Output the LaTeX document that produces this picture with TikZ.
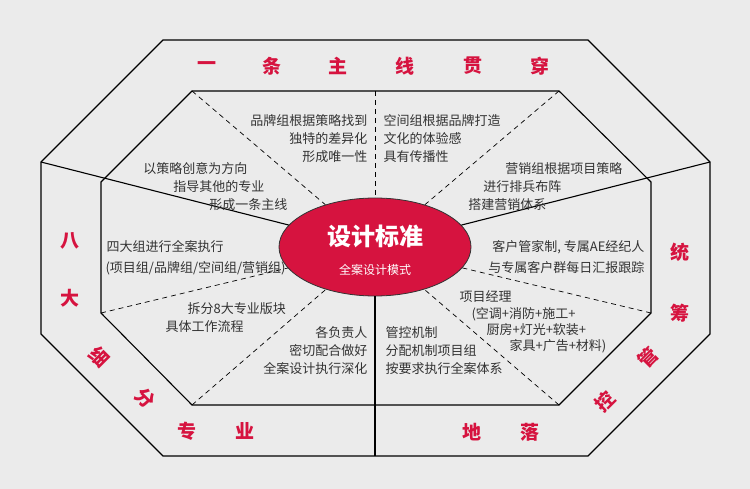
\documentclass[tikz,border=0pt]{standalone}
\usepackage{fontspec}
\setmainfont{Noto Sans CJK SC}
\usetikzlibrary{positioning, shapes.geometric}
\definecolor{brandred}{HTML}{D6133F}
\definecolor{bggray}{HTML}{EBEBEB}
\definecolor{txtgray}{HTML}{333333}
\begin{document}
\begin{tikzpicture}[x=1pt, y=-1pt, line width=1.1pt,
    body/.style={text=txtgray, font=\fontsize{13}{18}\selectfont, inner sep=0pt, align=left},
    band/.style={text=brandred, font=\fontsize{19}{20}\selectfont\bfseries, inner sep=0pt},
    spoke/.style={dashed, line width=.7pt, dash pattern=on 5pt off 4pt}]

    \fill[bggray] (0,0) rectangle (750,489);
    \useasboundingbox (0,0) rectangle (750,489);

    % Outer octagon
    \coordinate (o1) at (163,40);  \coordinate (o2) at (588,40);
    \coordinate (o3) at (710,162); \coordinate (o4) at (710,334);
    \coordinate (o5) at (588,456); \coordinate (o6) at (163,456);
    \coordinate (o7) at (41,334);  \coordinate (o8) at (41,162);
    \coordinate (obot) at (375,456);
    % Inner octagon
    \coordinate (i1) at (192,91);  \coordinate (i2) at (559,91);
    \coordinate (i3) at (651,182); \coordinate (i4) at (651,313);
    \coordinate (i5) at (559,405); \coordinate (i6) at (192,405);
    \coordinate (i7) at (101,313); \coordinate (i8) at (101,182);
    \coordinate (itop) at (375,91);

    \draw (o1) -- (o2) -- (o3) -- (o4) -- (o5) -- (o6) -- (o7) -- (o8) -- cycle;
    \draw (i1) -- (i2) -- (i3) -- (i4) -- (i5) -- (i6) -- (i7) -- (i8) -- cycle;

    % Center ellipse
    \node (std) [ellipse, fill=brandred, draw=txtgray, line width=.8pt, minimum width=192pt, minimum height=98pt] at (375,247) {};
    \node (stdtitle) [text=white, font=\fontsize{24}{26}\selectfont\bfseries] at (375,236) {设计标准};
    \node (stdsub) [text=white, font=\fontsize{12}{14}\selectfont] at (375,270) {全案设计模式};

    % Solid spokes
    \draw (o8) -- (std);
    \draw (o3) -- (std);
    \draw (std) -- (obot);

    % Dashed spokes
    \draw[spoke] (itop) -- (std);
    \draw[spoke] (i1) -- (std);
    \draw[spoke] (i2) -- (std);
    \draw[spoke] (i7) -- (std);
    \draw[spoke] (i4) -- (std);
    \draw[spoke] (i6) -- (std);
    \draw[spoke] (i5) -- (std);

    % Band labels
    \node[band] (t1) at (207,66) {一};
    \node[band] (t2) at (272,66) {条};
    \node[band] (t3) at (338,66) {主};
    \node[band] (t4) at (405,66) {线};
    \node[band] (t5) at (473,66) {贯};
    \node[band] (t6) at (540,66) {穿};
    \node[band] (l1) at (70,241) {八};
    \node[band] (l2) at (70,298) {大};
    \node[band, rotate=-45] (l3) at (100,357) {细};
    \node[band, rotate=-45] (l4) at (145,398) {分};
    \node[band] (l5) at (187,431) {专};
    \node[band] (l6) at (245,431) {业};
    \node[band] (r1) at (680,252) {统};
    \node[band] (r2) at (680,313) {筹};
    \node[band, rotate=45] (r3) at (648,358) {管};
    \node[band, rotate=45] (r4) at (605,402) {控};
    \node[band] (r5) at (472,432) {地};
    \node[band] (r6) at (530,432) {落};

    % Segment texts
    \node[body, align=right, anchor=north east] (brand) at (368,114) {品牌组根据策略找到\\独特的差异化\\形成唯一性};
    \node[body, anchor=north west] (space) at (383,114) {空间组根据品牌打造\\文化的体验感\\具有传播性};
    \node[body, anchor=east] (lead1) at (248,169) {以策略创意为方向};
    \node[body, anchor=east] (lead2) at (265,187) {指导其他的专业};
    \node[body, anchor=east] (lead3) at (288,205) {形成一条主线};
    \node[body, anchor=east] (mkt1) at (623,169) {营销组根据项目策略};
    \node[body, anchor=east] (mkt2) at (562,187) {进行排兵布阵};
    \node[body, anchor=east] (mkt3) at (547,205) {搭建营销体系};
    \node[body, anchor=west] (four1) at (106,247) {四大组进行全案执行};
    \node[body, anchor=west] (four2) at (105,268) {(项目组/品牌组/空间组/营销组)};
    \node[body, anchor=east] (client1) at (645,247) {客户管家制, 专属AE经纪人};
    \node[body, anchor=east] (client2) at (645,268) {与专属客户群每日汇报跟踪};
    \node[body, anchor=west] (split1) at (187,309) {拆分8大专业版块};
    \node[body, anchor=west] (split2) at (165,327) {具体工作流程};
    \node[body, align=right, anchor=north east] (duty) at (368,326) {各负责人\\密切配合做好\\全案设计执行深化};
    \node[body, anchor=west] (pm1) at (459,297) {项目经理};
    \node[body, anchor=west] (pm2) at (471,314) {(空调+消防+施工+};
    \node[body, anchor=west] (pm3) at (486,330) {厨房+灯光+软装+};
    \node[body, anchor=west] (pm4) at (509,346) {家具+广告+材料)};
    \node[body, anchor=north west] (ctrl) at (385,326) {管控机制\\分配机制项目组\\按要求执行全案体系};

\end{tikzpicture}
\end{document}
